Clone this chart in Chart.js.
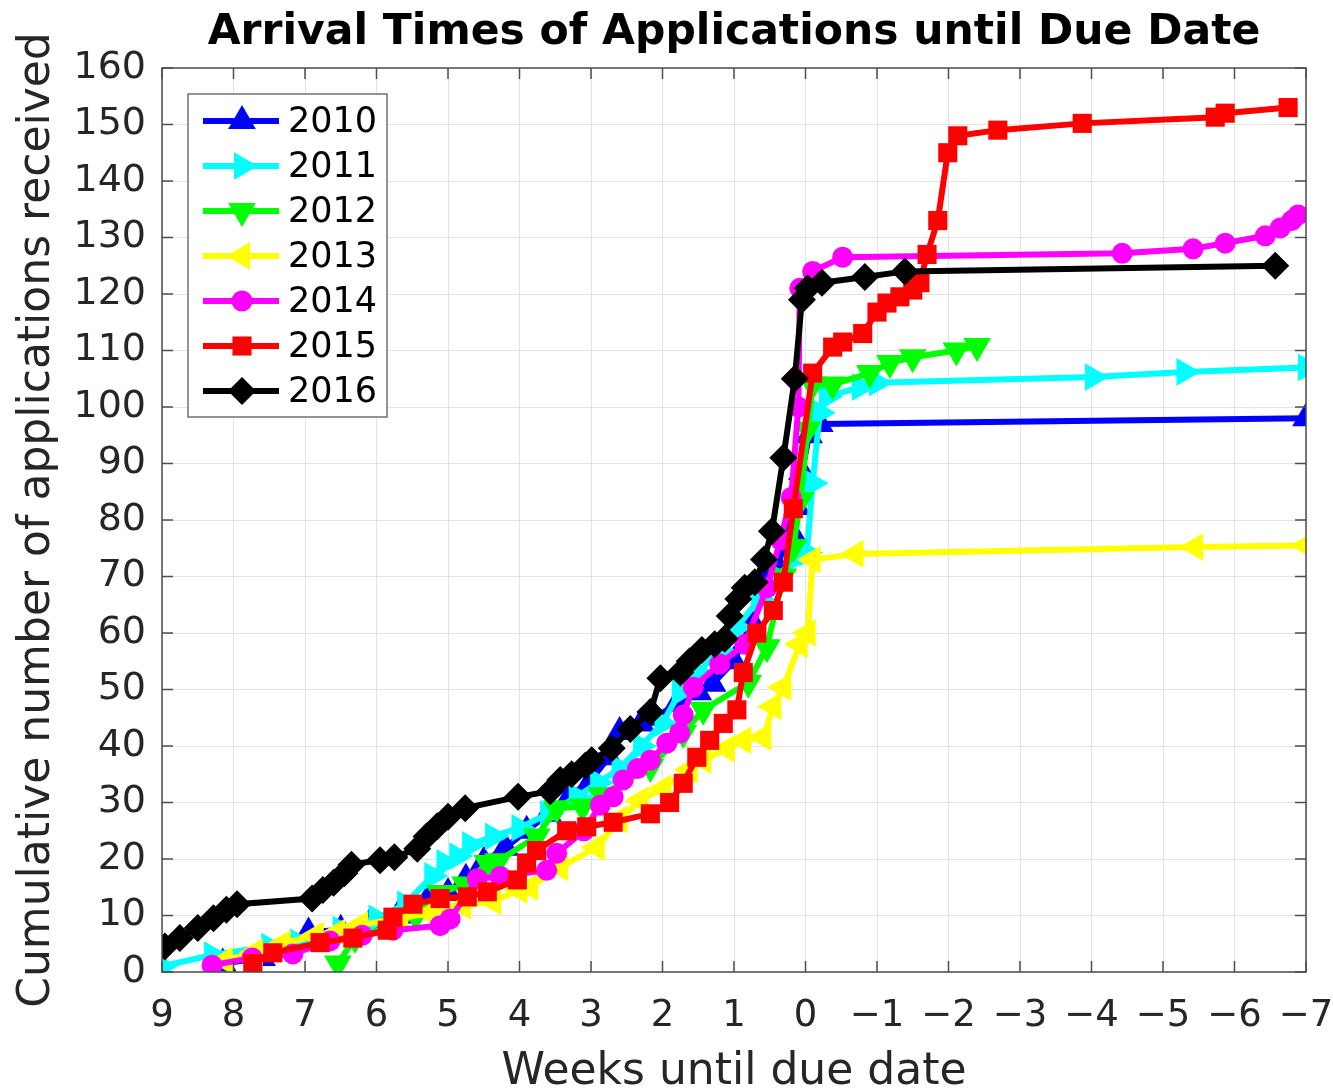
<!DOCTYPE html>
<html>
<head>
<meta charset="utf-8">
<script src="https://cdn.jsdelivr.net/npm/chart.js@4.4.0/dist/chart.umd.min.js"></script>
<style>
  html, body { margin: 0; padding: 0; background: #ffffff; }
  #wrap { width: 1333px; height: 1090px; position: relative; }
</style>
</head>
<body>
<div id="wrap"><canvas id="c" width="1333" height="1090"></canvas></div>
<script>
// ---------------- DATA ----------------
const chartTitle = 'Arrival Times of Applications until Due Date';
const xAxisTitle = 'Weeks until due date';
const yAxisTitle = 'Cumulative number of applications received';
const seriesNames = ['2010', '2011', '2012', '2013', '2014', '2015', '2016'];
const xTickValues = [9, 8, 7, 6, 5, 4, 3, 2, 1, 0, -1, -2, -3, -4, -5, -6, -7];
const xTickLabels = ['9', '8', '7', '6', '5', '4', '3', '2', '1', '0', '\u22121', '\u22122', '\u22123', '\u22124', '\u22125', '\u22126', '\u22127'];
const yTickLabels = ['0', '10', '20', '30', '40', '50', '60', '70', '80', '90', '100', '110', '120', '130', '140', '150', '160'];

const weeks2010 = [8.15, 7.6, 7.25, 6.95, 6.5, 6.1, 5.7, 5.3, 5.0, 4.75, 4.5, 4.2, 3.9, 3.6, 3.3, 3.0, 2.75, 2.6, 2.3, 2.1, 1.8, 1.5, 1.3, 1.0, 0.75, 0.55, 0.4, 0.2, 0.12, 0.05, -0.05, -0.2, -7.0];
const apps2010  = [1.5, 2.5, 4, 7, 7.5, 8.5, 10, 12.5, 14, 16.5, 19.5, 22, 25, 28, 31, 34, 38, 42.5, 44, 45, 47.5, 49.5, 51, 55, 62, 70, 72, 78, 82.3, 88.5, 95, 97, 98];

const weeks2011 = [9.0, 8.3, 7.5, 7.1, 6.5, 6.0, 5.6, 5.22, 5.05, 4.87, 4.69, 4.37, 4.0, 3.6, 3.2, 2.9, 2.6, 2.3, 2.0, 1.76, 1.5, 1.2, 0.96, 0.65, 0.4, 0.12, -0.02, -0.1, -0.2, -0.3, -0.76, -1.0, -4.02, -5.3, -7.0];
const apps2011  = [1, 3, 4.5, 5.3, 7.5, 9.5, 12, 17, 19.3, 20.5, 22.5, 24, 25.5, 28, 31, 33.5, 36, 40, 44, 49.5, 53, 57, 61, 66, 70, 73.5, 74.2, 86.5, 99, 101.8, 103.5, 104.3, 105.3, 106.2, 107];

const weeks2012 = [6.54, 6.3, 5.75, 5.45, 5.11, 4.76, 4.45, 4.3, 3.76, 3.48, 3.12, 2.85, 2.17, 1.71, 1.43, 0.8, 0.54, 0.31, 0.17, 0.07, -0.03, -0.1, -0.38, -0.9, -1.18, -1.5, -2.11, -2.4];
const apps2012  = [1.5, 6, 8.3, 10, 14, 15.5, 19.3, 19.6, 24, 29, 29.3, 31.3, 36.3, 42.3, 46.4, 51.2, 57.5, 70, 75.2, 83.5, 96, 104, 104, 106, 107.8, 108.8, 110, 110.8];

const weeks2013 = [8.12, 7.7, 7.31, 6.85, 6.55, 6.23, 5.67, 5.25, 4.79, 4.37, 4.0, 3.85, 3.43, 2.92, 2.6, 2.31, 1.99, 1.62, 1.43, 1.1, 0.87, 0.59, 0.45, 0.31, 0.08, -0.03, -0.1, -0.7, -5.45, -7.0];
const apps2013  = [2, 3.5, 5, 6.5, 7, 8.3, 9.5, 10.4, 11.7, 12.5, 14.5, 15, 18.5, 22.1, 27, 30.4, 32.5, 35.8, 37.5, 39.5, 41, 41.6, 47, 50.4, 58, 60, 73, 74, 75.2, 75.5];

const weeks2014 = [8.3, 7.74, 7.17, 6.65, 6.2, 5.77, 5.11, 4.97, 4.59, 4.27, 3.62, 3.48, 3.1, 2.87, 2.69, 2.55, 2.35, 2.17, 1.94, 1.76, 1.71, 1.57, 1.2, 0.85, 0.54, 0.35, 0.2, 0.1, 0.08, -0.1, -0.52, -4.43, -5.42, -5.87, -6.43, -6.64, -6.8, -6.89];
const apps2014  = [1.2, 2.5, 3.2, 5.5, 6.5, 7.4, 8.2, 9.4, 16.5, 16.9, 18, 21, 25, 29.5, 31, 34, 36, 37.5, 40.5, 42.3, 45.5, 50.4, 54.5, 58, 68, 76.5, 84, 100, 121, 124, 126.5, 127.2, 128, 129, 130.3, 131.7, 133, 134];

const weeks2015 = [7.73, 7.45, 6.79, 6.33, 5.85, 5.77, 5.49, 5.11, 4.73, 4.45, 4.03, 3.9, 3.76, 3.34, 3.06, 2.69, 2.17, 1.9, 1.71, 1.52, 1.34, 1.15, 0.96, 0.87, 0.68, 0.45, 0.31, 0.17, -0.1, -0.38, -0.52, -0.8, -1.0, -1.14, -1.32, -1.5, -1.6, -1.7, -1.85, -1.99, -2.13, -2.69, -3.87, -5.73, -5.87, -6.75];
const apps2015  = [1.5, 3.4, 5.2, 6, 7.4, 9.7, 12, 13, 13.3, 14.2, 16.3, 19.3, 21.5, 25, 25.7, 26.5, 28, 30, 33.4, 38, 41, 44, 46.4, 53, 60, 64, 69, 82, 106, 110.6, 111.5, 113, 116.8, 118.4, 119.5, 120.7, 122, 127, 133, 145, 148, 149, 150.2, 151.3, 152, 153];

const weeks2016 = [8.96, 8.75, 8.5, 8.28, 8.1, 7.95, 6.9, 6.75, 6.6, 6.45, 6.35, 5.95, 5.75, 5.43, 5.3, 5.15, 5.0, 4.76, 4.02, 3.57, 3.43, 3.27, 3.08, 2.99, 2.71, 2.45, 2.17, 2.03, 1.75, 1.62, 1.45, 1.27, 1.13, 1.06, 0.94, 0.85, 0.71, 0.58, 0.47, 0.31, 0.15, 0.05, -0.03, -0.23, -0.83, -1.39, -6.57];
const apps2016  = [4.5, 6, 7.8, 9.5, 11, 12, 13, 14.5, 15.8, 17.5, 19, 19.8, 20.3, 21.8, 24, 25.8, 27.5, 29, 31, 32, 34, 35, 36.5, 37.5, 39.6, 43, 46, 52, 53, 55, 57, 58, 59, 63, 66, 68, 69, 73, 78, 91, 105, 119, 121, 122, 123, 124, 125];

// ---------------- STYLES ----------------
const seriesWeeks = [weeks2010, weeks2011, weeks2012, weeks2013, weeks2014, weeks2015, weeks2016];
const seriesApps  = [apps2010, apps2011, apps2012, apps2013, apps2014, apps2015, apps2016];
const seriesColors = ['#0000ff', '#00ffff', '#00ff00', '#ffff00', '#ff00ff', '#ff0000', '#000000'];
const seriesMarkers = ['triangle', 'triangle', 'triangle', 'triangle', 'circle', 'rect', 'rectRot'];
const seriesRotation = [0, 90, 180, 270, 0, 0, 0];
const seriesRadius = [16, 16, 16, 16, 10.5, 13.5, 14];

const FONT = '"DejaVu Sans", "Liberation Sans", sans-serif';
const TEXT = '#262626';

const datasets = seriesNames.map((name, i) => ({
  label: name,
  data: seriesWeeks[i].map((w, k) => ({ x: w, y: seriesApps[i][k] })),
  borderColor: seriesColors[i],
  backgroundColor: seriesColors[i],
  pointBackgroundColor: seriesColors[i],
  pointBorderColor: seriesColors[i],
  pointStyle: seriesMarkers[i],
  pointRotation: seriesRotation[i],
  pointRadius: seriesRadius[i],
  pointHoverRadius: seriesRadius[i],
  pointBorderWidth: 0,
  borderWidth: 6,
  tension: 0,
  fill: false,
  order: seriesNames.length - i
}));

// Title centred over the axes
const titlePlugin = {
  id: 'axesTitle',
  afterDraw(chart) {
    const { ctx, chartArea: a } = chart;
    ctx.save();
    ctx.fillStyle = '#000000';
    ctx.font = 'bold 42.5px ' + FONT;
    ctx.textAlign = 'center';
    ctx.textBaseline = 'middle';
    ctx.fillText(chartTitle, (a.left + a.right) / 2, 33);
    ctx.restore();
  }
};

// Box + inner ticks (MATLAB style)
const boxPlugin = {
  id: 'boxPlugin',
  afterDatasetsDraw(chart) {
    const { ctx, chartArea: a, scales } = chart;
    ctx.save();
    ctx.strokeStyle = '#4d4d4d';
    ctx.lineWidth = 1.5;
    ctx.strokeRect(a.left, a.top, a.right - a.left, a.bottom - a.top);
    ctx.beginPath();
    const tl = 11;
    xTickValues.forEach(v => {
      const px = scales.x.getPixelForValue(v);
      ctx.moveTo(px, a.bottom); ctx.lineTo(px, a.bottom - tl);
      ctx.moveTo(px, a.top); ctx.lineTo(px, a.top + tl);
    });
    yTickLabels.forEach(l => {
      const py = scales.y.getPixelForValue(Number(l));
      ctx.moveTo(a.left, py); ctx.lineTo(a.left + tl, py);
      ctx.moveTo(a.right, py); ctx.lineTo(a.right - tl, py);
    });
    ctx.stroke();
    ctx.restore();
  }
};

// Legend drawn inside the axes (line + marker samples)
const legendPlugin = {
  id: 'insideLegend',
  afterDraw(chart) {
    const { ctx } = chart;
    const bx = 188, by = 94, bw = 199, bh = 323;
    ctx.save();
    ctx.fillStyle = '#ffffff';
    ctx.fillRect(bx, by, bw, bh);
    ctx.strokeStyle = '#4d4d4d';
    ctx.lineWidth = 1.2;
    ctx.strokeRect(bx, by, bw, bh);
    chart.data.datasets.forEach((ds, i) => {
      const cy = 121 + i * 45;
      ctx.strokeStyle = ds.borderColor;
      ctx.fillStyle = ds.borderColor;
      ctx.lineWidth = 6;
      ctx.beginPath();
      ctx.moveTo(203, cy); ctx.lineTo(279, cy);
      ctx.stroke();
      Chart.helpers.drawPoint(ctx, {
        pointStyle: ds.pointStyle, rotation: ds.pointRotation,
        radius: ds.pointRadius, borderWidth: 0
      }, 242, cy);
      ctx.fillStyle = '#000000';
      ctx.font = '35px ' + FONT;
      ctx.textAlign = 'left';
      ctx.textBaseline = 'middle';
      ctx.fillText(ds.label, 288, cy + 2);
    });
    ctx.restore();
  }
};

new Chart(document.getElementById('c'), {
  type: 'line',
  data: { datasets },
  plugins: [boxPlugin, legendPlugin, titlePlugin],
  options: {
    responsive: false,
    animation: false,
    events: [],
    layout: { padding: { left: 0, right: 27, top: 68, bottom: 0 } },
    plugins: {
      legend: { display: false },
      tooltip: { enabled: false },
      title: { display: false }
    },
    scales: {
      x: {
        type: 'linear',
        reverse: true,
        min: -7, max: 9,
        afterFit(s) { s.height = 118; s.paddingLeft = 0; s.paddingRight = 0; },
        afterBuildTicks(s) { s.ticks = xTickValues.map(v => ({ value: v })); },
        ticks: {
          color: TEXT,
          font: { family: FONT, size: 37 },
          padding: 22,
          maxRotation: 0,
          autoSkip: false,
          callback(v) { const k = xTickValues.indexOf(v); return k >= 0 ? xTickLabels[k] : ''; }
        },
        grid: { color: '#e3e3e3', lineWidth: 1, drawTicks: false },
        border: { display: false },
        title: {
          display: true, text: xAxisTitle, color: TEXT,
          font: { family: FONT, size: 44, lineHeight: 0.8 },
          padding: { top: 0, bottom: 0 }
        }
      },
      y: {
        type: 'linear',
        min: 0, max: 160,
        afterFit(s) { s.width = 162; s.paddingTop = 0; s.paddingBottom = 0; },
        afterBuildTicks(s) { s.ticks = yTickLabels.map(l => ({ value: Number(l) })); },
        ticks: {
          color: TEXT,
          font: { family: FONT, size: 38 },
          padding: 16,
          autoSkip: false,
          callback(v) { const k = yTickLabels.indexOf(String(v)); return k >= 0 ? yTickLabels[k] : ''; }
        },
        grid: { color: '#e3e3e3', lineWidth: 1, drawTicks: false },
        border: { display: false },
        title: {
          display: true, text: yAxisTitle, color: TEXT,
          font: { family: FONT, size: 44, lineHeight: 1.0 },
          padding: { top: 16, bottom: 0 }
        }
      }
    }
  }
});
</script>
</body>
</html>
